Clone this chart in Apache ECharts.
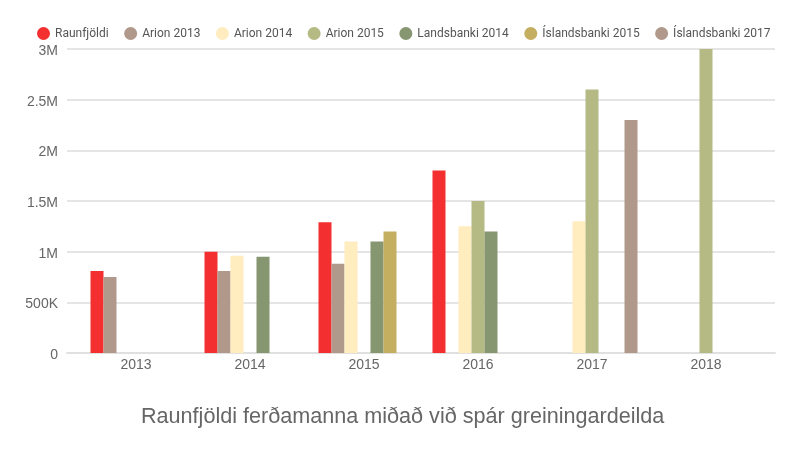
<!DOCTYPE html>
<html><head><meta charset="utf-8">
<script src="https://cdn.jsdelivr.net/npm/echarts@6/dist/echarts.min.js"></script>
<style>html,body{margin:0;padding:0;background:#fff}#c{width:800px;height:450px}</style>
</head><body><div id="c"></div>
<script>
const categories = ['2013','2014','2015','2016','2017','2018'];
const seriesNames = ['Raunfjöldi','Arion 2013','Arion 2014','Arion 2015','Landsbanki 2014','Íslandsbanki 2015','Íslandsbanki 2017'];
const raunfjoldi = [810000, 1000000, 1290000, 1800000, null, null];
const arion2013 = [750000, 810000, 880000, null, null, null];
const arion2014 = [null, 960000, 1100000, 1250000, 1300000, null];
const arion2015 = [null, null, null, 1500000, 2600000, 3000000];
const landsbanki2014 = [null, 950000, 1100000, 1200000, null, null];
const islandsbanki2015 = [null, null, 1200000, null, null, null];
const islandsbanki2017 = [null, null, null, null, 2300000, null];
const yTicks = ['0','500K','1M','1.5M','2M','2.5M','3M'];

const seriesData = [raunfjoldi, arion2013, arion2014, arion2015, landsbanki2014, islandsbanki2015, islandsbanki2017];
const colors = ['#f42f2f','#b0998a','#ffecbf','#b5ba85','#859671','#c4ae60','#b0998a'];

const chart = echarts.init(document.getElementById('c'));
chart.setOption({
  animation: false,
  color: colors,
  title: {
    text: 'Raunfjöldi ferðamanna miðað við spár greiningardeilda',
    left: 136, top: 401,
    textStyle: {fontFamily: 'Liberation Sans, Arial, sans-serif', fontSize: 21.6, fontWeight: 'normal', color: '#666'}
  },
  legend: {
    top: 22, left: 32,
    icon: 'circle', itemWidth: 13, itemHeight: 13, itemGap: 15.5,
    textStyle: {fontFamily: 'Roboto, sans-serif', fontSize: 12, color: '#555'},
    data: seriesNames
  },
  grid: [
    {left: 67, right: 25, top: 49, bottom: 97},
    {left: 79, right: 37, top: 49, bottom: 97}
  ],
  xAxis: [
    {gridIndex: 0, type: 'category', data: categories, axisLabel: {show: false}, axisTick: {show: false},
     axisLine: {show: true, lineStyle: {color: '#e0e0e0', width: 2}}},
    {gridIndex: 1, type: 'category', data: categories, axisTick: {show: false}, axisLine: {show: false},
     axisLabel: {margin: 5, fontFamily: 'Liberation Sans, Arial, sans-serif', fontSize: 14, color: '#666'}}
  ],
  yAxis: [
    {gridIndex: 0, type: 'value', min: 0, max: 3000000, interval: 500000,
     axisLine: {show: false}, axisTick: {show: false},
     axisLabel: {margin: 9, fontFamily: 'Liberation Sans, Arial, sans-serif', fontSize: 14, color: '#666',
       formatter: (v) => '{a|' + yTicks[Math.round(v / 500000)] + '}',
       rich: {a: {fontFamily: 'Liberation Sans, Arial, sans-serif', fontSize: 14, color: '#666', padding: [4, 0, 0, 0]}}},
     splitLine: {lineStyle: {color: '#dcdcdc', width: 1.5}}},
    {gridIndex: 1, type: 'value', min: 0, max: 3000000, interval: 500000, show: false, splitLine: {show: false}}
  ],
  series: seriesNames.map((n, i) => ({
    name: n, type: 'bar', xAxisIndex: 1, yAxisIndex: 1,
    data: seriesData[i], barWidth: 13, barGap: '0%',
    itemStyle: {color: colors[i]}
  }))
});
</script></body></html>
